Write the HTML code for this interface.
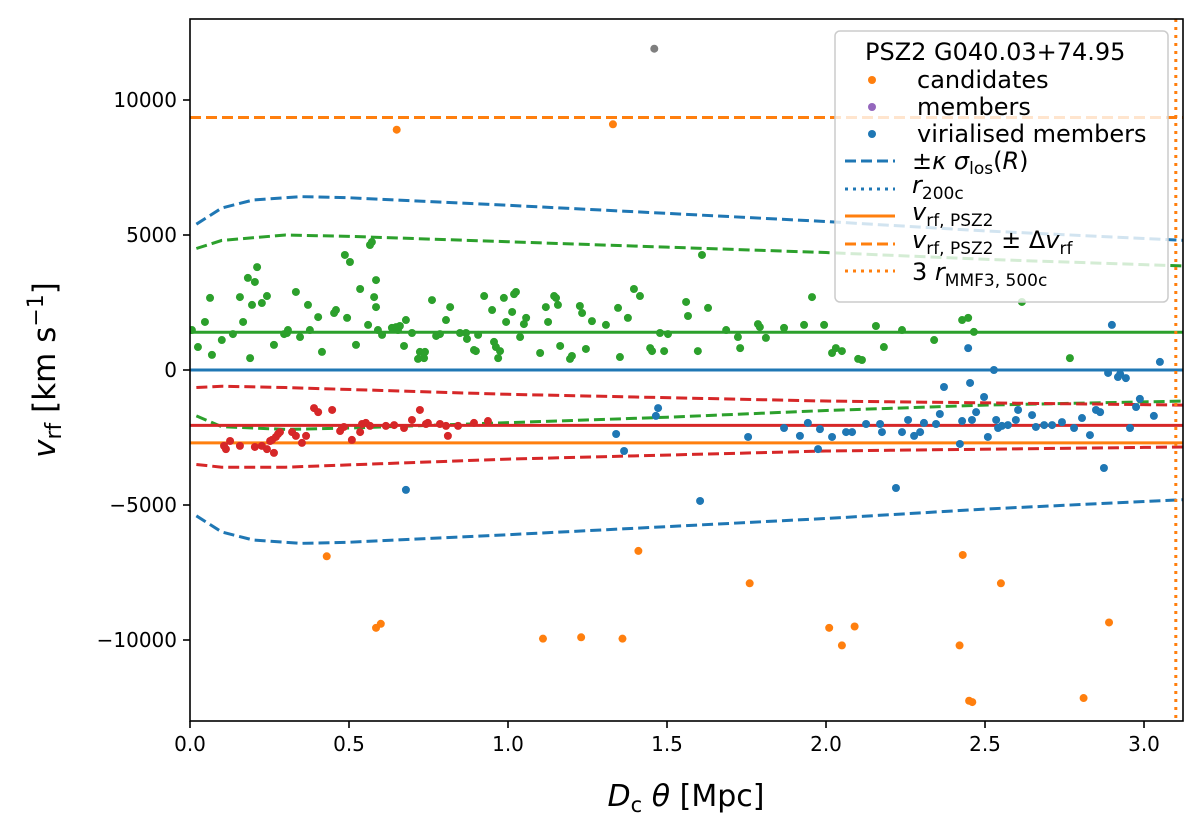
<!DOCTYPE html>
<html><head><meta charset="utf-8"><style>
body{margin:0;background:#fff}
svg{font-family:"DejaVu Sans","Liberation Sans",sans-serif}
</style></head><body>
<svg id="chart" width="1200" height="833" viewBox="0 0 1200 833">
<defs><clipPath id="clip"><rect x="190" y="19" width="993" height="702"/></clipPath></defs>
<rect width="1200" height="833" fill="#fff"/>
<g id="plot" clip-path="url(#clip)"></g>
<g id="axes"></g>
<g id="legend"></g>
</svg>
<script>
const xTicks=[0,0.5,1.0,1.5,2.0,2.5,3.0];
const xTickLabels=["0.0","0.5","1.0","1.5","2.0","2.5","3.0"];
const yTicks=[-10000,-5000,0,5000,10000];
const yTickLabels=["\u221210000","\u22125000","0","5000","10000"];
const sigX=[0.02,0.1,0.2,0.35,0.5,1.0,1.5,2.0,2.5,3.13];
const sigBlue=[5400,6000,6300,6420,6380,6100,5800,5500,5150,4800];
const greenX=[0.02,0.1,0.3,0.5,1.0,1.5,2.0,2.5,3.13];
const greenUp=[4500,4800,5000,4950,4750,4550,4350,4100,3850];
const greenLo=[-1700,-2100,-2200,-2150,-1950,-1750,-1500,-1300,-1150];
const redX=[0.02,0.1,0.3,1.0,2.0,3.13];
const redUp=[-650,-600,-650,-900,-1150,-1300];
const redLo=[-3500,-3600,-3600,-3300,-3000,-2850];
const greenMean=1400, redMean=-2050, blueMean=0, psz2V=-2700, psz2Dv=9350, r3mmf=3.1;
const orangeX=[0.65,1.33,0.43,1.41,0.585,0.60,1.11,1.23,1.36,1.76,2.01,2.09,2.05,2.42,2.43,2.45,2.46,2.55,2.89,2.81];
const orangeY=[8900,9100,-6900,-6700,-9550,-9400,-9950,-9900,-9950,-7900,-9550,-9500,-10200,-10200,-6850,-12250,-12300,-7900,-9350,-12150];
const greyX=[1.46];
const greyY=[11900];
const gX=[0.006,0.025,0.047,0.063,0.069,0.10,0.135,0.157,0.167,0.182,0.189,0.195,0.204,0.211,0.226,0.242,0.264,0.296,0.305,0.308,0.333,0.346,0.371,0.377,0.403,0.415,0.453,0.459,0.487,0.494,0.503,0.522,0.535,0.560,0.566,0.572,0.579,0.585,0.585,0.591,0.604,0.635,0.648,0.654,0.660,0.673,0.679,0.698,0.717,0.723,0.736,0.739,0.761,0.774,0.786,0.805,0.818,0.849,0.868,0.871,0.893,0.899,0.906,0.925,0.950,0.956,0.962,0.969,0.975,0.987,0.994,1.013,1.019,1.025,1.038,1.050,1.057,1.101,1.119,1.126,1.145,1.151,1.157,1.164,1.195,1.201,1.226,1.233,1.245,1.264,1.308,1.346,1.352,1.377,1.396,1.415,1.447,1.453,1.478,1.491,1.503,1.560,1.566,1.597,1.610,1.629,1.686,1.723,1.730,1.786,1.792,1.811,1.868,1.931,1.956,1.994,2.019,2.031,2.050,2.101,2.113,2.157,2.182,2.239,2.340,2.428,2.447,2.465,2.616,2.767];
const gY=[1480,850,1780,2670,560,1110,1330,2700,1780,3410,440,2410,3260,3810,2480,2740,930,1330,1370,1480,2890,1220,2410,1480,1960,670,2110,2220,4260,1930,4000,930,3000,1670,4630,4740,2700,2330,3330,1480,1300,1560,1590,1480,1630,890,1850,1370,410,670,440,670,2590,1260,1330,1850,2330,1370,1370,1150,740,700,1300,2740,2220,1040,850,440,700,2670,1780,2150,2810,2890,1220,1700,1930,630,2330,1780,2740,2670,2410,890,410,520,2370,2110,780,1810,1670,2300,480,1930,3000,2740,810,700,1370,700,1330,2520,2000,700,4260,2300,1480,1220,810,1700,1590,1190,1560,1670,2700,1670,630,810,700,410,370,1630,850,1480,1110,1850,1930,1410,2520,440];
const rX=[0.107,0.113,0.126,0.157,0.204,0.226,0.242,0.252,0.258,0.264,0.270,0.277,0.283,0.321,0.333,0.352,0.365,0.390,0.403,0.447,0.472,0.484,0.509,0.535,0.541,0.553,0.566,0.616,0.642,0.673,0.698,0.723,0.742,0.748,0.786,0.805,0.811,0.843,0.893,0.937];
const rY=[-2810,-2930,-2630,-2810,-2850,-2810,-2930,-2630,-2590,-3070,-2480,-2370,-2300,-2300,-2440,-2700,-2440,-1410,-1560,-1480,-2260,-2110,-2590,-2300,-2000,-1960,-2070,-2070,-2040,-2150,-1850,-1480,-2000,-1960,-2000,-2070,-2440,-2070,-1960,-1890];
const bX=[0.679,1.340,1.365,1.465,1.472,1.604,1.755,1.868,1.918,1.943,1.975,1.981,2.019,2.063,2.082,2.126,2.170,2.176,2.220,2.239,2.258,2.277,2.296,2.308,2.346,2.358,2.371,2.421,2.428,2.447,2.453,2.459,2.472,2.497,2.509,2.528,2.535,2.541,2.553,2.572,2.597,2.604,2.648,2.660,2.686,2.711,2.742,2.780,2.805,2.830,2.849,2.862,2.874,2.887,2.899,2.918,2.925,2.943,2.956,2.975,2.987,3.031,3.050];
const bY=[-4440,-2370,-3000,-1700,-1410,-4850,-2480,-2150,-2440,-1960,-2930,-2190,-2480,-2300,-2300,-2000,-2000,-2300,-4370,-2300,-1850,-2440,-2300,-1960,-2000,-1630,-630,-2740,-1890,810,-480,-1850,-1560,-1000,-2480,0,-1850,-2150,-2070,-2040,-1850,-1480,-1670,-2110,-2040,-2040,-1930,-2150,-1780,-2410,-1480,-1560,-3630,-110,1670,-260,-150,-300,-2150,-1370,-1070,-1700,300];

const NS="http://www.w3.org/2000/svg";
const L=190,R=1183,T=19,B=721,XMAX=3.1226;
const sx=v=>L+v/XMAX*(R-L);
const sy=v=>370-v*0.027;
const C={blue:"#1f77b4",orange:"#ff7f0e",green:"#2ca02c",red:"#d62728",purple:"#9467bd",grey:"#7f7f7f"};
function mk(tag,attrs,parent){const e=document.createElementNS(NS,tag);for(const k in attrs)e.setAttribute(k,attrs[k]);parent.appendChild(e);return e;}
const plot=document.getElementById('plot'),axes=document.getElementById('axes');
function poly(xs,ys,color,dash,name){
  const p=mk('polyline',{points:xs.map((x,i)=>sx(x)+','+sy(ys[i])).join(' '),fill:'none',stroke:color,'stroke-width':3,'stroke-dasharray':dash||'none'},plot);
  
  
}
function hline(v,color,dash,name){
  const l=mk('line',{x1:L,x2:R,y1:sy(v),y2:sy(v),stroke:color,'stroke-width':3,'stroke-dasharray':dash||'none'},plot);
  
  
}
function pts(xs,ys,color,name){
  xs.forEach((x,i)=>{
    const c=mk('circle',{cx:sx(x),cy:sy(ys[i]),r:4,fill:color},plot);
    
    
  });
}
poly(sigX,sigBlue,C.blue,'11,5','sigma-upper-blue');
poly(sigX,sigBlue.map(v=>-v),C.blue,'11,5','sigma-lower-blue');
poly(greenX,greenUp,C.green,'11,5','sigma-upper-green');
poly(greenX,greenLo,C.green,'11,5','sigma-lower-green');
poly(redX,redUp,C.red,'11,5','sigma-upper-red');
poly(redX,redLo,C.red,'11,5','sigma-lower-red');
hline(greenMean,C.green,null,'mean-green');
hline(redMean,C.red,null,'mean-red');
hline(blueMean,C.blue,null,'mean-blue');
hline(psz2V,C.orange,null,'v-psz2');
hline(psz2Dv,C.orange,'11,5','v-psz2-plus-dv');
const vl=mk('line',{x1:sx(r3mmf),x2:sx(r3mmf),y1:T,y2:B,stroke:C.orange,'stroke-width':3,'stroke-dasharray':'3,5'},plot);


pts(orangeX,orangeY,C.orange,'candidate-point');
pts(greyX,greyY,C.grey,'other-point');
pts(gX,gY,C.green,'green-member-point');
pts(rX,rY,C.red,'red-member-point');
pts(bX,bY,C.blue,'virialised-member-point');

mk('rect',{x:L,y:T,width:R-L,height:B-T,fill:'none',stroke:'#000','stroke-width':1.6},axes);
xTicks.forEach((v,i)=>{
  mk('line',{x1:sx(v),x2:sx(v),y1:B,y2:B+7,stroke:'#000','stroke-width':1.6},axes);
  const t=mk('text',{x:sx(v),y:B+30,'text-anchor':'middle','font-size':20},axes);t.textContent=xTickLabels[i];
  
  
});
yTicks.forEach((v,i)=>{
  mk('line',{x1:L-7,x2:L,y1:sy(v),y2:sy(v),stroke:'#000','stroke-width':1.6},axes);
  const t=mk('text',{x:L-13,y:sy(v)+7,'text-anchor':'end','font-size':20},axes);t.textContent=yTickLabels[i];
  
  
});
</script>
<script>
const svg=document.getElementById('chart');
svg.insertAdjacentHTML('beforeend',`
<text x="686" y="806" text-anchor="middle" font-size="30"><tspan font-style="italic">D</tspan><tspan font-size="21" dy="6">c</tspan><tspan dy="-6"> </tspan><tspan font-style="italic">θ</tspan> [Mpc]</text>
<text transform="translate(55,370) rotate(-90)" text-anchor="middle" font-size="31"><tspan font-style="italic">v</tspan><tspan font-size="22" dy="6">rf</tspan><tspan dy="-6"> [km s</tspan><tspan font-size="22" dy="-12">−1</tspan><tspan dy="12">]</tspan></text>
<g>
<rect x="835" y="31" width="333" height="271" rx="5" fill="#fff" fill-opacity="0.8" stroke="#ccc" stroke-width="1.5"/>
<text x="865" y="60" font-size="24">PSZ2 G040.03+74.95</text>
<circle cx="872" cy="80" r="4" fill="#ff7f0e"/><text x="917" y="88" font-size="24">candidates</text>
<circle cx="872" cy="107" r="4" fill="#9467bd"/><text x="917" y="115" font-size="24">members</text>
<circle cx="872" cy="134" r="4" fill="#1f77b4"/><text x="917" y="142" font-size="24">virialised members</text>
<line x1="845" x2="895" y1="161" y2="161" stroke="#1f77b4" stroke-width="3" stroke-dasharray="11,5"/><text x="912" y="169" font-size="24">±<tspan font-style="italic">κ σ</tspan><tspan font-size="17" dy="5">los</tspan><tspan dy="-5">(</tspan><tspan font-style="italic">R</tspan>)</text>
<line x1="845" x2="895" y1="189" y2="189" stroke="#1f77b4" stroke-width="3" stroke-dasharray="3,5"/><text x="912" y="193" font-size="24"><tspan font-style="italic">r</tspan><tspan font-size="17" dy="6">200c</tspan></text>
<line x1="845" x2="895" y1="216" y2="216" stroke="#ff7f0e" stroke-width="3"/><text x="912" y="220" font-size="24"><tspan font-style="italic">v</tspan><tspan font-size="17" dy="6">rf, PSZ2</tspan></text>
<line x1="845" x2="895" y1="244" y2="244" stroke="#ff7f0e" stroke-width="3" stroke-dasharray="11,5"/><text x="912" y="248" font-size="24"><tspan font-style="italic">v</tspan><tspan font-size="17" dy="6">rf, PSZ2</tspan><tspan dy="-6"> ± Δ</tspan><tspan font-style="italic">v</tspan><tspan font-size="17" dy="6">rf</tspan></text>
<line x1="845" x2="895" y1="271" y2="271" stroke="#ff7f0e" stroke-width="3" stroke-dasharray="3,5"/><text x="912" y="280" font-size="24">3 <tspan font-style="italic">r</tspan><tspan font-size="17" dy="6">MMF3, 500c</tspan></text>
</g>`);
</script>
</body></html>
